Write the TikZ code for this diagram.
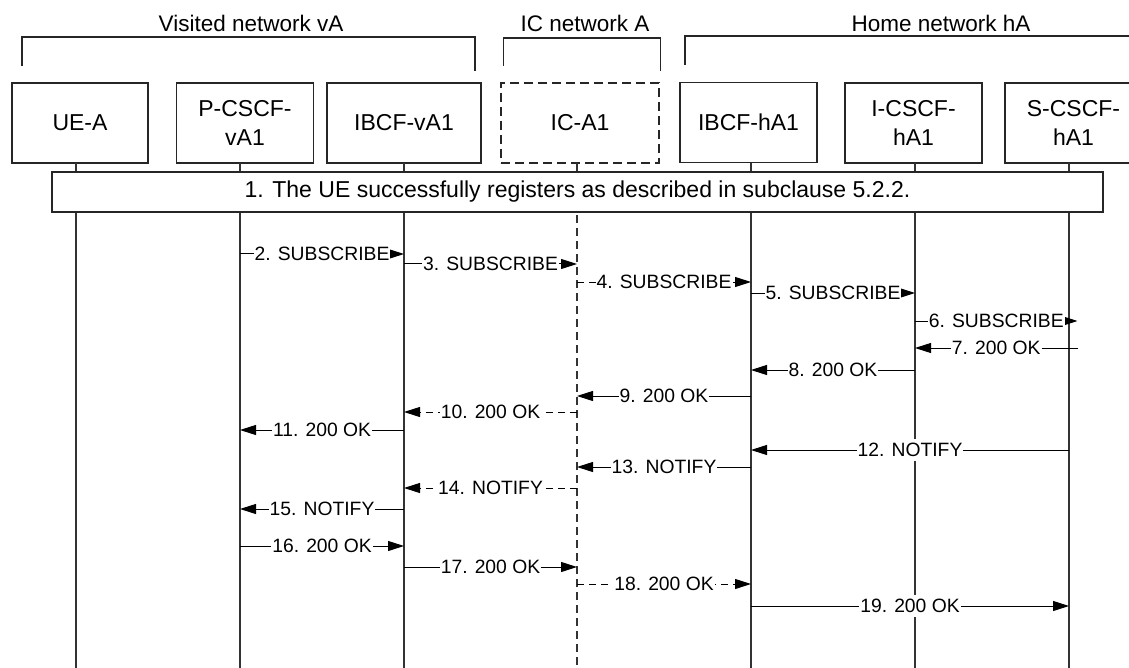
\documentclass[tikz,border=0pt]{standalone}
\usepackage{fontspec}
\setmainfont{Liberation Sans}
\usetikzlibrary{arrows.meta}
\newcommand\msgline[5]{\draw[#5] (#1 |- 0,#3) -- node[lbl]{#4} (#2 |- 0,#3);}
\begin{document}
\begin{tikzpicture}[x=1pt,y=-1pt,
  ent/.style={draw=black!85,line width=1.1pt,minimum height=80pt,inner sep=0pt,align=center,font=\fontsize{23}{29}\selectfont},
  life/.style={draw=black!80,line width=1.3pt},
  msg/.style={draw=black,line width=1pt,-{Triangle[length=16pt,width=10pt]}},
  dmsg/.style={msg,dash pattern=on 7pt off 5pt},
  lbl/.style={fill=white,inner xsep=1pt,inner ysep=4pt,text height=13.8pt,text depth=0pt,font=\fontsize{19.3}{22}\selectfont},
  hdr/.style={anchor=base,inner sep=0pt,font=\fontsize{22.5}{26}\selectfont},
  brk/.style={draw=black!85,line width=1.1pt}]
\useasboundingbox[fill=white] (0,0) rectangle (1129,668);

% headers and brackets
\node[hdr] (hv) at (251,32) {Visited network vA};
\node[hdr] (hic) at (585,32) {IC network A};
\node[hdr] (hh) at (941,32) {Home network hA};
\draw[brk] (22,66) -- (22,37) -- (475,37) -- (475,71);
\draw[brk] (503.5,66) -- (503.5,38) -- (660.5,38) -- (660.5,71);
\draw[brk] (685,65) -- (685,36) -- (1135,36);

% entity boxes
\node[ent,minimum width=136pt] (ue) at (80,123) {UE-A};
\node[ent,minimum width=137pt] (pc) at (245,123) {P-CSCF-\\vA1};
\node[ent,minimum width=154pt] (ibv) at (404,123) {IBCF-vA1};
\node[ent,minimum width=158pt,dash pattern=on 9pt off 5pt] (ic) at (580,123) {IC-A1};
\node[ent,minimum width=137pt] (ibh) at (748.5,122.5) {IBCF-hA1};
\node[ent,minimum width=137pt] (icscf) at (913.5,123) {I-CSCF-\\hA1};
\node[ent,minimum width=137pt] (scscf) at (1073.5,123) {S-CSCF-\\hA1};

% lifelines
\coordinate (lue) at (76,163);
\coordinate (lpc) at (240,163);
\coordinate (libv) at (404,163);
\coordinate (lic) at (577,163);
\coordinate (libh) at (751,163);
\coordinate (licscf) at (915,163);
\coordinate (lsc) at (1069,163);
\coordinate (lscx) at (1077.5,163);
\draw[life] (lue) -- (lue |- 0,668);
\draw[life] (lpc) -- (lpc |- 0,668);
\draw[life] (libv) -- (libv |- 0,668);
\draw[life,dash pattern=on 8pt off 5pt] (lic) -- (lic |- 0,668);
\draw[life] (libh) -- (libh |- 0,668);
\draw[life] (licscf) -- (licscf |- 0,668);
\draw[life] (lsc) -- (lsc |- 0,668);

% registration box
\node[draw=black!85,line width=1.1pt,fill=white,minimum width=1051pt,minimum height=40pt,inner sep=0pt,
  text height=16.5pt,text depth=6pt,font=\fontsize{23}{26}\selectfont] (reg) at (577.5,192)
  {1. The UE successfully registers as described in subclause 5.2.2.};

% messages
\msgline{lpc}{libv}{254}{2. SUBSCRIBE}{msg}
\msgline{libv}{lic}{264}{3. SUBSCRIBE}{msg}
\msgline{lic}{libh}{282}{4. SUBSCRIBE}{dmsg}
\msgline{libh}{licscf}{293}{5. SUBSCRIBE}{msg}
\msgline{licscf}{lscx}{321}{6. SUBSCRIBE}{msg}
\msgline{lscx}{licscf}{348}{7. 200 OK}{msg}
\msgline{licscf}{libh}{370}{8. 200 OK}{msg}
\msgline{libh}{lic}{396}{9. 200 OK}{msg}
\msgline{lic}{libv}{412}{10. 200 OK}{dmsg}
\msgline{libv}{lpc}{430}{11. 200 OK}{msg}
\msgline{lsc}{libh}{450}{12. NOTIFY}{msg}
\msgline{libh}{lic}{467}{13. NOTIFY}{msg}
\msgline{lic}{libv}{488}{14. NOTIFY}{dmsg}
\msgline{libv}{lpc}{509}{15. NOTIFY}{msg}
\msgline{lpc}{libv}{546}{16. 200 OK}{msg}
\msgline{libv}{lic}{567}{17. 200 OK}{msg}
\msgline{lic}{libh}{584}{18. 200 OK}{dmsg}
\msgline{libh}{lsc}{606}{19. 200 OK}{msg}
\end{tikzpicture}
\end{document}
